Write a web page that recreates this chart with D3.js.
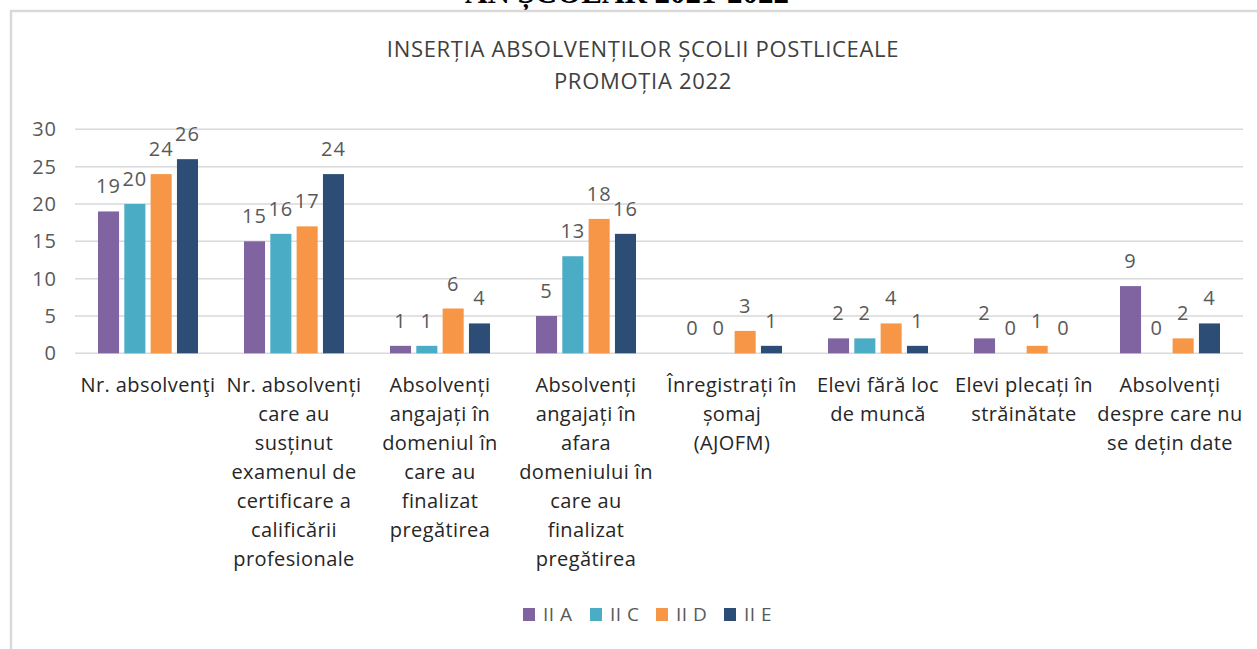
<!DOCTYPE html>
<html>
<head>
<meta charset="utf-8">
<script src="https://cdn.jsdelivr.net/npm/d3@7"></script>
<style>
  html, body { margin: 0; padding: 0; background: #fff; overflow: hidden; }
  svg { display: block; }
  text { font-family: "Open Sans", "Noto Sans", sans-serif; }
</style>
</head>
<body>
<svg id="chart" width="1257" height="649"></svg>
<script>
// ---- data ----
const categories = [
  ["Nr. absolvenţi"],
  ["Nr. absolvenți", "care au", "susținut", "examenul de", "certificare a", "calificării", "profesionale"],
  ["Absolvenți", "angajați în", "domeniul în", "care au", "finalizat", "pregătirea"],
  ["Absolvenți", "angajați în", "afara", "domeniului în", "care au", "finalizat", "pregătirea"],
  ["Înregistrați în", "șomaj", "(AJOFM)"],
  ["Elevi fără loc", "de muncă"],
  ["Elevi plecați în", "străinătate"],
  ["Absolvenți", "despre care nu", "se dețin date"]
];
const seriesNames = ["II A", "II C", "II D", "II E"];
const valuesIIA = [19, 15, 1, 5, 0, 2, 2, 9];
const valuesIIC = [20, 16, 1, 13, 0, 2, 0, 0];
const valuesIID = [24, 17, 6, 18, 3, 4, 1, 2];
const valuesIIE = [26, 24, 4, 16, 1, 1, 0, 4];
const yTicks = [0, 5, 10, 15, 20, 25, 30];
const titleLines = ["INSERȚIA ABSOLVENȚILOR ȘCOLII POSTLICEALE", "PROMOȚIA 2022"];
const headerText = "AN ȘCOLAR 2021-2022";

const seriesValues = [valuesIIA, valuesIIC, valuesIID, valuesIIE];
const colors = ["#8064A2", "#4BACC6", "#F79646", "#2C4D75"];

const svg = d3.select("#chart");

// cropped page header
svg.append("text")
  .attr("x", 627).attr("y", 3)
  .attr("text-anchor", "middle")
  .style("font-family", "'Liberation Serif', 'DejaVu Serif', serif")
  .style("font-weight", "bold")
  .style("font-size", "31px")
  .attr("fill", "#000")
  .text(headerText);

// chart border
svg.append("path")
  .attr("d", "M11,660 L11,11 L1270,11")
  .attr("fill", "none")
  .attr("stroke", "#d9d9d9")
  .attr("stroke-width", 2.5);

// title
svg.append("g").selectAll("text").data(titleLines).join("text")
  .attr("x", 643)
  .attr("y", (d, i) => 57 + i * 32)
  .attr("text-anchor", "middle")
  .attr("fill", "#404040")
  .style("font-size", "22px")
  .style("letter-spacing", "0.7px")
  .text(d => d);

const plotLeft = 75, plotRight = 1243, plotTop = 129.3, plotBottom = 353.3;

const x0 = d3.scaleBand()
  .domain(d3.range(categories.length))
  .range([plotLeft, plotRight])
  .paddingInner(0.315)
  .paddingOuter(0.1575);

const x1 = d3.scaleBand()
  .domain(d3.range(seriesNames.length))
  .range([0, x0.bandwidth()])
  .paddingInner(0.2)
  .paddingOuter(0);

const y = d3.scaleLinear().domain([0, 30]).range([plotBottom, plotTop]);

// gridlines
svg.append("g").selectAll("line").data(yTicks).join("line")
  .attr("x1", plotLeft).attr("x2", plotRight)
  .attr("y1", d => y(d)).attr("y2", d => y(d))
  .attr("stroke", "#d9d9d9")
  .attr("stroke-width", 1.5);

// y axis labels
const yAxis = d3.axisLeft(y).tickValues(yTicks).tickSize(0).tickPadding(0);
const yg = svg.append("g").attr("transform", "translate(57,0)").call(yAxis);
yg.select(".domain").remove();
yg.selectAll("text")
  .attr("fill", "#595959")
  .style("font-size", "20px")
  .style("letter-spacing", "1px")
  .style("font-family", "'Open Sans', sans-serif");

// bars
const groups = svg.append("g").selectAll("g").data(categories).join("g")
  .attr("transform", (d, i) => `translate(${x0(i)},0)`);

groups.each(function(cat, ci) {
  const g = d3.select(this);
  const vals = seriesValues.map((s, si) => ({ si, v: s[ci] }));
  g.selectAll("rect").data(vals).join("rect")
    .attr("x", d => x1(d.si))
    .attr("y", d => y(d.v))
    .attr("width", x1.bandwidth())
    .attr("height", d => y(0) - y(d.v))
    .attr("fill", d => colors[d.si]);
  g.selectAll("text.val").data(vals).join("text")
    .attr("class", "val")
    .attr("x", d => x1(d.si) + x1.bandwidth() / 2)
    .attr("y", d => y(d.v) - 18)
    .attr("text-anchor", "middle")
    .attr("fill", "#595959")
    .style("font-size", "20px")
    .style("letter-spacing", "1px")
    .text(d => d.v);
});

// category labels
const catG = svg.append("g").selectAll("text").data(categories).join("text")
  .attr("text-anchor", "middle")
  .attr("fill", "#262626")
  .style("font-size", "20px")
  .style("letter-spacing", "0.4px");
catG.each(function(lines, i) {
  d3.select(this).selectAll("tspan").data(lines).join("tspan")
    .attr("x", x0(i) + x0.bandwidth() / 2)
    .attr("y", (d, j) => 392 + j * 29)
    .text(d => d);
});

// legend
const legendX = [523, 590, 656, 724];
const lg = svg.append("g").selectAll("g").data(seriesNames).join("g")
  .attr("transform", (d, i) => `translate(${legendX[i]},608)`);
lg.append("rect").attr("width", 12).attr("height", 13).attr("fill", (d, i) => colors[i]);
lg.append("text")
  .attr("x", 20).attr("y", 13)
  .attr("fill", "#595959")
  .style("font-size", "19px")
  .style("letter-spacing", "0.5px")
  .text(d => d);
</script>
</body>
</html>
